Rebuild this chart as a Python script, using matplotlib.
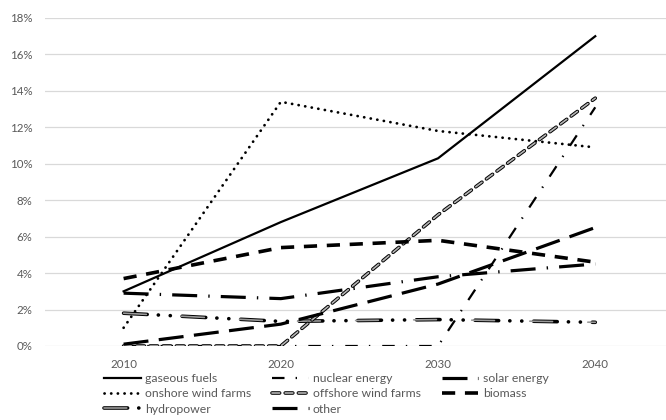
import matplotlib.pyplot as plt
from matplotlib.ticker import PercentFormatter

plt.rcParams['font.family'] = ['Lato', 'DejaVu Sans']
plt.rcParams['lines.scale_dashes'] = False

years = ['2010', '2020', '2030', '2040']

# share of each source, percent
gaseous_fuels = [3.0, 6.8, 10.3, 17.0]
onshore_wind = [1.0, 13.4, 11.8, 10.9]
hydropower = [1.8, 1.35, 1.45, 1.3]
nuclear_energy = [0.0, 0.0, 0.0, 13.1]
offshore_wind = [0.0, 0.0, 7.2, 13.6]
other = [2.9, 2.6, 3.8, 4.5]
solar_energy = [0.1, 1.2, 3.4, 6.5]
biomass = [3.7, 5.4, 5.8, 4.6]

fig = plt.figure(figsize=(6.66, 4.2), dpi=100)
ax = fig.add_axes([45 / 666, 74 / 420, 1 - 45 / 666, 328 / 420])
x = range(len(years))

h_gas, = ax.plot(x, gaseous_fuels, color='black', lw=1.6)
h_on, = ax.plot(x, onshore_wind, color='black', lw=2.0, ls=(0, (0.1, 4.7)),
                dash_capstyle='round')

# hydropower: grey pill dashes with black outline, then two black dots
hy_pat = (0, (17, 8, 0.1, 8.5, 0.1, 8.5))
h_hy0, = ax.plot(x, hydropower, color='black', lw=2.6, ls=hy_pat,
                 dash_capstyle='round')
h_hy1, = ax.plot(x, hydropower, color='#9a9a9a', lw=1.2,
                 ls=(0, (16.4, 25.4)), dash_capstyle='round')

h_nuc, = ax.plot(x, nuclear_energy, color='black', lw=1.6,
                 ls=(0, (9, 8, 1, 8.6)))

# offshore wind: outlined grey dashes
off_pat = (0, (5.5, 4))
h_off0, = ax.plot(x, offshore_wind, color='black', lw=2.6, ls=off_pat,
                  dash_capstyle='round')
h_off1, = ax.plot(x, offshore_wind, color='#b5b5b5', lw=1.2, ls=off_pat,
                  dash_capstyle='round')

h_oth, = ax.plot(x, other, color='black', lw=2.3, ls=(0, (18, 8, 1, 8)))
h_sol, = ax.plot(x, solar_energy, color='black', lw=2.3, ls=(0, (18, 7.5)))
h_bio, = ax.plot(x, biomass, color='black', lw=2.6, ls=(0, (9.5, 7)))

ax.set_xlim(-0.5, 3.45)
ax.set_ylim(0, 18)
ax.set_yticks(range(0, 19, 2))
ax.yaxis.set_major_formatter(PercentFormatter(decimals=0))
ax.set_xticks(list(x))
ax.set_xticklabels(years)
ax.grid(axis='y', color='#d9d9d9', lw=0.9)
ax.set_axisbelow(True)
for s in ax.spines.values():
    s.set_visible(False)
ax.tick_params(length=0, colors='#595959', labelsize=8.3, pad=9)

# legend fills column by column
handles = [h_gas, h_on, (h_hy0, h_hy1),
           h_nuc, (h_off0, h_off1), h_oth,
           h_sol, h_bio]
labels = ['gaseous fuels', 'onshore wind farms', 'hydropower',
          'nuclear energy', 'offshore wind farms', 'other',
          'solar energy', 'biomass']
fig.legend(handles, labels,
           loc='upper left', bbox_to_anchor=(104 / 666, 1 - 373 / 420),
           ncol=3, frameon=False, fontsize=8.8, labelcolor='#595959',
           handlelength=3.0, handletextpad=0.35, columnspacing=1.7,
           labelspacing=0.35, borderpad=0, borderaxespad=0)

fig.savefig('out.png', dpi=100)
